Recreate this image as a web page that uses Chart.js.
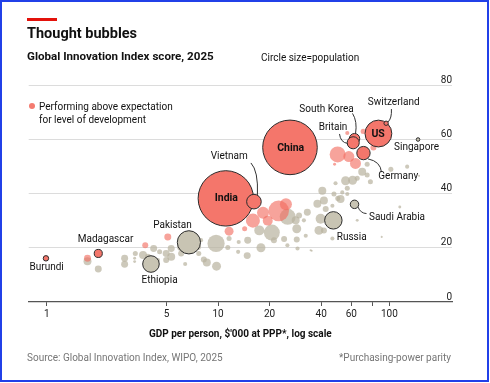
<!DOCTYPE html>
<html><head><meta charset="utf-8">
<script src="https://cdn.jsdelivr.net/npm/chart.js@4.4.1/dist/chart.umd.min.js"></script>
<style>
body{margin:0;background:#fff;}
#wrap{position:relative;width:490px;height:383px;overflow:hidden;background:#fff;font-family:Roboto,"Noto Sans",sans-serif;color:#111;}
.t{position:absolute;white-space:nowrap;line-height:1;}
</style></head><body>
<div id="wrap">
<canvas id="c" width="490" height="383" style="position:absolute;left:0;top:0;"></canvas>
<div style="position:absolute;left:27px;top:17.5px;width:30px;height:3px;background:#e3120b"></div>
<div class="t" style="left:27px;top:26.8px;font-size:14.5px;font-weight:700">Thought bubbles</div>
<div class="t" style="left:27px;top:50.7px;font-size:11.6px;font-weight:700">Global Innovation Index score, 2025</div>
<div class="t" style="left:261px;top:52.6px;font-size:10px">Circle size=population</div>
<div style="position:absolute;left:28.7px;top:102.7px;width:6.6px;height:6.6px;border-radius:50%;background:#f47b70"></div>
<div class="t" style="left:39px;top:102.1px;font-size:10px">Performing above expectation</div>
<div class="t" style="left:39px;top:115.4px;font-size:10px">for level of development</div>
<div class="t" style="left:27px;top:353px;font-size:10px;color:#767676">Source: Global Innovation Index, WIPO, 2025</div>
<div class="t" style="right:39px;top:353px;font-size:10px;color:#767676">*Purchasing-power parity</div>
<div style="position:absolute;left:0;top:0;width:489px;height:382px;border:2px solid #2140e8;box-sizing:border-box"></div>
</div>
<script>
// ---- Data ----
const tickValues = [1, 5, 10, 20, 40, 60, 80, 100];
const tickLabels = ['1', '5', '10', '20', '40', '60', '', '100'];
const yTickValues = [0, 20, 40, 60, 80];

// Named countries: GDP per person ($'000 PPP), GII score, population (m)
const labelledNames = ['Burundi','Madagascar','Ethiopia','Pakistan','India','Vietnam','China','Russia','Saudi Arabia','South Korea','Britain','Germany','US','Switzerland','Singapore'];
const labelledGdp   = [0.99, 2.0, 4.06, 6.76, 11.1, 16.2, 26.3, 47.1, 62.6, 62.6, 61.5, 70.6, 86.3, 95.7, 147];
const labelledScore = [16.1, 17.9, 14.0, 22.0, 38.2, 37.0, 57.0, 30.1, 36.0, 60.2, 58.7, 54.9, 62.1, 65.9, 59.9];
const labelledPop   = [14, 31, 130, 255, 1450, 101, 1410, 144, 34, 52, 69, 84, 340, 9, 6];
const labelledAbove = [true, true, false, false, true, true, true, false, false, true, true, true, true, true, false];

// Other countries performing above expectation
const aboveGdp   = [1.73, 3.76, 5.09, 11.6, 14.3, 15.98, 18.3, 22.6, 24.9, 19.5, 49.9, 58.0, 63.4, 70.3, 80.7, 56.8, 47.9];
const aboveScore = [16.1, 20.9, 24.0, 26.1, 27.0, 30.0, 32.9, 33.6, 36.0, 30.0, 54.4, 53.6, 51.1, 62.9, 57.0, 62.3, 50.8];
const abovePop   = [23, 17, 23, 38, 12, 93, 68, 200, 68, 47, 121, 57, 57, 12, 17, 8, 4];

// Other countries
const belowGdp   = [1.73, 2.0, 2.85, 2.85, 3.29, 3.26, 3.65, 3.90, 4.21, 4.56, 4.46, 4.98, 5.33, 5.33, 4.98, 6.09, 6.09, 6.43, 7.72, 7.63,
                    7.96, 9.74, 8.60, 9.80, 8.26, 11.4, 13.2, 14.9, 17.4, 17.8, 14.8, 13.1, 11.6, 13.1, 20.6, 25.5, 28.8, 29.7, 33.2, 24.3,
                    28.8, 21.2, 25.4, 29.1, 32.5, 34.7, 31.7, 39.7, 38.8, 41.5, 46.5, 28.4, 38.0, 41.5, 40.6, 46.5, 51.9, 47.5, 53.1, 56.8,
                    55.5, 61.0, 64.9, 69.4, 74.2, 74.2, 77.5, 102, 127, 149, 115, 90.2, 64.9, 35.2, 42.5, 56.8, 48.5, 50.0, 3.26];
const belowScore = [15.0, 12.2, 16.1, 13.9, 17.9, 16.1, 17.3, 16.7, 19.7, 18.5, 15.5, 17.9, 19.7, 16.7, 15.5, 20.3, 17.9, 14.0, 17.9, 20.3,
                    22.8, 21.6, 14.6, 13.2, 15.7, 20.1, 22.1, 22.8, 26.4, 20.0, 17.1, 18.5, 23.4, 29.7, 25.6, 31.4, 27.0, 31.9, 33.1, 23.2,
                    23.0, 22.8, 20.9, 19.7, 24.4, 19.1, 30.1, 30.7, 26.4, 26.4, 23.4, 30.1, 36.2, 37.4, 41.0, 35.5, 38.0, 39.8, 40.4, 41.9,
                    44.7, 44.9, 45.6, 48.0, 50.8, 46.8, 44.3, 48.9, 49.9, 46.5, 35.0, 24.0, 30.1, 18.9, 34.3, 39.8, 43.8, 38.2, 14.9];
const belowPop   = [30, 23, 23, 23, 12, 4, 30, 17, 23, 12, 8, 23, 23, 30, 17, 30, 17, 8, 12, 17,
                    8, 140, 30, 38, 17, 12, 8, 23, 47, 38, 23, 8, 12, 8, 121, 121, 38, 17, 23, 17,
                    17, 17, 8, 8, 8, 2, 8, 47, 38, 17, 8, 30, 30, 30, 30, 8, 30, 12, 8, 12,
                    38, 38, 12, 30, 12, 12, 12, 12, 8, 2, 4, 2, 4, 2, 17, 8, 8, 12, 4];

// ---- Presentation ----
const toR = p => 0.727 * Math.sqrt(p);   // circle area proportional to population
const pts = (g, s, p) => g.map((v, i) => ({ x: v, y: s[i], r: toR(p[i]) }));
const idxAbove = labelledNames.map((n, i) => i).filter(i => labelledAbove[i]);
const idxBelow = labelledNames.map((n, i) => i).filter(i => !labelledAbove[i]);
const pick = idx => idx.map(i => ({ x: labelledGdp[i], y: labelledScore[i], r: toR(labelledPop[i]) }));

// text offsets (px) from bubble centre, leader curve [x0,y0,cx,cy,x1,y1]
const placement = {
  'Burundi': { dx: 0.7, dy: 9 },
  'Madagascar': { dx: 7.3, dy: -14.4 },
  'Ethiopia': { dx: 8.6, dy: 16.4 },
  'Pakistan': { dx: -16.4, dy: -17.1 },
  'India': { dx: 0.5, dy: 0.3, bold: true },
  'Vietnam': { dx: -24.7, dy: -44.7, lead: [-3, -38.7, 4.5, -30.7, 3.5, -6.7] },
  'China': { dx: 0.7, dy: 0.6, bold: true },
  'Russia': { dx: 18.3, dy: 16.9 },
  'Saudi Arabia': { dx: 42.5, dy: 12.7, lead: [3.5, 2.7, 6, 9, 12, 9.2] },
  'South Korea': { dx: -28, dy: -29.7, lead: [-2, -25.3, 3, -17.3, 1, -5] },
  'Britain': { dx: -20.2, dy: -15.7, lead: [-13.7, -8.8, -12.7, -0.3, -5.4, 0.7] },
  'Germany': { dx: 34.8, dy: 23.9, lead: [4.5, 5.8, 17, 8.3, 18, 19] },
  'US': { dx: -0.3, dy: 0.9, bold: true },
  'Switzerland': { dx: 7.6, dy: -21.1, lead: [5.3, -14.2, 5.8, -4.7, 1.8, -1.2] },
  'Singapore': { dx: -1.5, dy: 7.6 }
};

const annot = {
  id: 'annot',
  afterDatasetsDraw(chart) {
    const { ctx, chartArea, scales: { x, y } } = chart;
    ctx.save();
    ctx.font = '10px Roboto';
    ctx.fillStyle = '#222';
    ctx.textAlign = 'right';
    ctx.textBaseline = 'alphabetic';
    yTickValues.forEach(v => ctx.fillText(String(v), chartArea.right, y.getPixelForValue(v) - 2.5));
    labelledNames.forEach((n, i) => {
      const pl = placement[n];
      if (!pl) return;
      const px = x.getPixelForValue(labelledGdp[i]);
      const py = y.getPixelForValue(labelledScore[i]);
      if (pl.lead) {
        const L = pl.lead;
        ctx.beginPath();
        ctx.moveTo(px + L[0], py + L[1]);
        ctx.quadraticCurveTo(px + L[2], py + L[3], px + L[4], py + L[5]);
        ctx.strokeStyle = '#333';
        ctx.lineWidth = 1;
        ctx.stroke();
      }
      ctx.font = (pl.bold ? 'bold 10.5px' : '10px') + ' Roboto';
      ctx.textAlign = 'center';
      ctx.textBaseline = 'middle';
      ctx.fillStyle = '#111';
      ctx.fillText(n, px + pl.dx, py + pl.dy);
    });
    ctx.restore();
  }
};

Chart.defaults.font.family = 'Roboto';
new Chart(document.getElementById('c'), {
  type: 'bubble',
  data: {
    datasets: [
      { data: pick(idxAbove), backgroundColor: '#f4766b', borderColor: '#2b2b2b', borderWidth: 1, order: 1 },
      { data: pick(idxBelow), backgroundColor: '#c8c4b3', borderColor: '#2b2b2b', borderWidth: 1, order: 2 },
      { data: pts(aboveGdp, aboveScore, abovePop), backgroundColor: 'rgba(242,107,94,0.62)', borderWidth: 0, order: 3 },
      { data: pts(belowGdp, belowScore, belowPop), backgroundColor: 'rgba(184,178,158,0.7)', borderWidth: 0, order: 4 }
    ]
  },
  options: {
    responsive: false,
    animation: false,
    events: [],
    layout: { padding: { left: 27, right: 38, top: 85, bottom: 43 } },
    plugins: { legend: { display: false }, tooltip: { enabled: false } },
    scales: {
      x: {
        type: 'logarithmic',
        min: 0.785, max: 232,
        afterBuildTicks: s => { s.ticks = tickValues.map(v => ({ value: v })); },
        ticks: {
          autoSkip: false, maxRotation: 0, padding: 2,
          font: { size: 10 }, color: '#222',
          callback: (v, i) => tickLabels[i]
        },
        grid: { drawOnChartArea: false, drawTicks: true, tickLength: 4, color: '#555', lineWidth: 1 },
        border: { display: true, color: '#555', width: 1.2 },
        title: { display: true, text: "GDP per person, $'000 at PPP*, log scale", font: { size: 10, weight: 'bold' }, color: '#111', padding: { top: 6, bottom: 0 } }
      },
      y: {
        type: 'linear', position: 'right',
        min: 0, max: 80,
        afterBuildTicks: s => { s.ticks = yTickValues.map(v => ({ value: v })); },
        ticks: { display: false },
        grid: { drawTicks: false, color: c => (c.tick && c.tick.value === 0) ? 'rgba(0,0,0,0)' : '#dcdcdc', lineWidth: 1 },
        border: { display: false }
      }
    }
  },
  plugins: [annot]
});
</script>
</body></html>
